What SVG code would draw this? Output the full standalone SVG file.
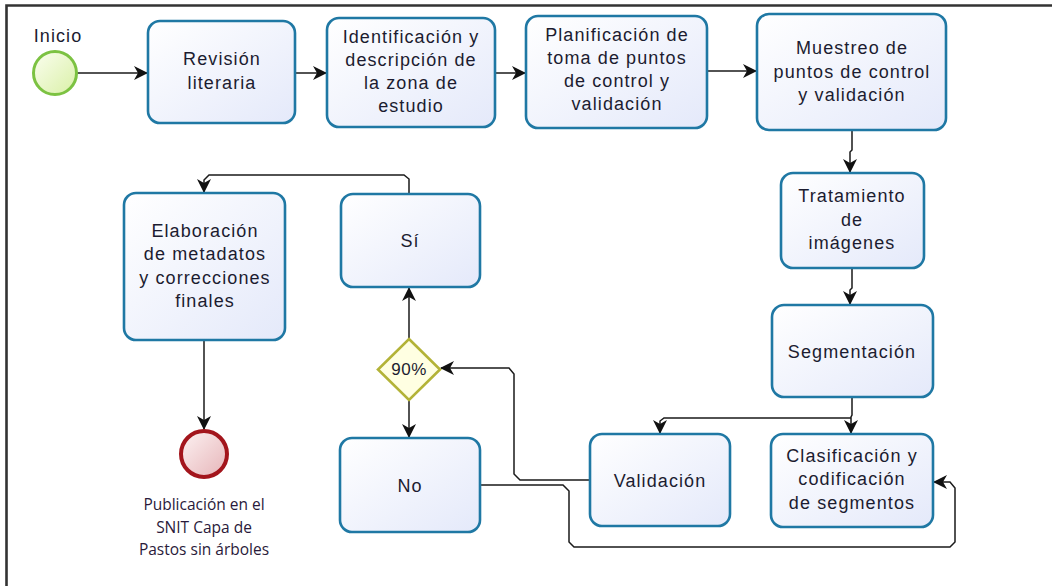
<svg xmlns="http://www.w3.org/2000/svg" width="1052" height="586" viewBox="0 0 1052 586">
<defs>
<linearGradient id="gBox" x1="0" y1="0" x2="1" y2="1">
<stop offset="0" stop-color="#ffffff"/>
<stop offset="1" stop-color="#e4e9fa"/>
</linearGradient>
<linearGradient id="gStart" x1="0" y1="0" x2="1" y2="1">
<stop offset="0" stop-color="#fbfef0"/>
<stop offset="1" stop-color="#d9f0a6"/>
</linearGradient>
<linearGradient id="gEnd" x1="0" y1="0" x2="1" y2="1">
<stop offset="0" stop-color="#fdf3f3"/>
<stop offset="1" stop-color="#e6b4b8"/>
</linearGradient>
<marker id="arr" markerUnits="userSpaceOnUse" markerWidth="14" markerHeight="14" viewBox="0 0 14 14" refX="13" refY="7" orient="auto">
<path d="M0,0 L14,7 L0,14 L4,7 z" fill="#111"/>
</marker>
<style>
.box{fill:url(#gBox);stroke:#1f78a4;stroke-width:2.6}
.t{font-family:"Liberation Sans",Arial,sans-serif;font-size:18px;letter-spacing:1.1px;fill:#1c1c30;text-anchor:middle}
.lbl{font-family:"Open Sans","Liberation Sans",sans-serif;font-size:15.5px;fill:#2a1a3a;text-anchor:middle}
.c{fill:none;stroke:#1a1a1a;stroke-width:1.5;marker-end:url(#arr)}
</style>
</defs>
<rect width="1052" height="586" fill="#ffffff"/>
<path d="M6.5,586 V5.5 H1052" fill="none" stroke="#333" stroke-width="2.6"/>

<g id="connectors">
<path class="c" d="M77,73 H147"/>
<path class="c" d="M295,73 H326"/>
<path class="c" d="M495,73 H525"/>
<path class="c" d="M707,71 H756"/>
<path class="c" d="M852,130 V150 L850,152 V172"/>
<path class="c" d="M852,268 V288 L850,290 V304"/>
<path class="c" d="M852,397 V415 L851,417 V433"/>
<path class="c" d="M851,418 H664 L660,421 V433"/>
<path class="c" d="M590,480 H520 L514,474 V374 L509,368 H441"/>
<path class="c" d="M480,485 H563 L569,491 V542 L574,547 H950 L955,542 V488 L950,482 H934"/>
<path class="c" d="M409,340 V288"/>
<path class="c" d="M409,400 V437"/>
<path class="c" d="M409,194 V179 L404,175 H209 L204,180 V192"/>
<path class="c" d="M204,340 V429"/>
</g>

<g id="inicio">
<circle cx="55" cy="73" r="21.5" fill="url(#gStart)" stroke="#7cc242" stroke-width="3"/>
<text class="t" x="58" y="42">Inicio</text>
</g>

<g id="revision">
<rect class="box" x="148" y="21" width="147" height="102" rx="12"/>
<text class="t" x="222" y="65">Revisión</text>
<text class="t" x="222" y="89">literaria</text>
</g>

<g id="identificacion">
<rect class="box" x="327" y="18" width="168" height="109" rx="12"/>
<text class="t" x="411" y="43">Identificación y</text>
<text class="t" x="411" y="66">descripción de</text>
<text class="t" x="411" y="89">la zona de</text>
<text class="t" x="411" y="112">estudio</text>
</g>

<g id="planificacion">
<rect class="box" x="526" y="16" width="181" height="112" rx="12"/>
<text class="t" x="617" y="41">Planificación de</text>
<text class="t" x="617" y="64">toma de puntos</text>
<text class="t" x="617" y="87">de control y</text>
<text class="t" x="617" y="110">validación</text>
</g>

<g id="muestreo">
<rect class="box" x="757" y="14" width="189" height="116" rx="12"/>
<text class="t" x="852" y="54">Muestreo de</text>
<text class="t" x="852" y="78">puntos de control</text>
<text class="t" x="852" y="101">y validación</text>
</g>

<g id="tratamiento">
<rect class="box" x="781" y="173" width="143" height="95" rx="12"/>
<text class="t" x="852" y="202">Tratamiento</text>
<text class="t" x="852" y="226">de</text>
<text class="t" x="852" y="249">imágenes</text>
</g>

<g id="segmentacion">
<rect class="box" x="772" y="305" width="161" height="92" rx="12"/>
<text class="t" x="852" y="358">Segmentación</text>
</g>

<g id="clasificacion">
<rect class="box" x="771" y="434" width="162" height="93" rx="12"/>
<text class="t" x="852" y="462">Clasificación y</text>
<text class="t" x="852" y="485">codificación</text>
<text class="t" x="852" y="509">de segmentos</text>
</g>

<g id="validacion">
<rect class="box" x="590" y="434" width="140" height="92" rx="12"/>
<text class="t" x="660" y="487">Validación</text>
</g>

<g id="decision">
<polygon points="409,339 440,369.5 409,400 378,369.5" fill="#ffffe2" stroke="#b3b337" stroke-width="2.6"/>
<text class="t" x="409" y="375" style="font-size:17px;letter-spacing:0.5px">90%</text>
</g>

<g id="si">
<rect class="box" x="341" y="194" width="139" height="93" rx="12"/>
<text class="t" x="410" y="247">Sí</text>
</g>

<g id="no">
<rect class="box" x="340" y="438" width="140" height="94" rx="12"/>
<text class="t" x="410" y="492">No</text>
</g>

<g id="elaboracion">
<rect class="box" x="124" y="193" width="161" height="147" rx="12"/>
<text class="t" x="205" y="237">Elaboración</text>
<text class="t" x="205" y="260">de metadatos</text>
<text class="t" x="205" y="284">y correcciones</text>
<text class="t" x="205" y="307">finales</text>
</g>

<g id="fin">
<circle cx="204" cy="454" r="23" fill="url(#gEnd)" stroke="#a3151c" stroke-width="4"/>
<text class="lbl" x="204" y="510">Publicación en el</text>
<text class="lbl" x="204" y="533">SNIT Capa de</text>
<text class="lbl" x="204" y="555">Pastos sin árboles</text>
</g>
</svg>
